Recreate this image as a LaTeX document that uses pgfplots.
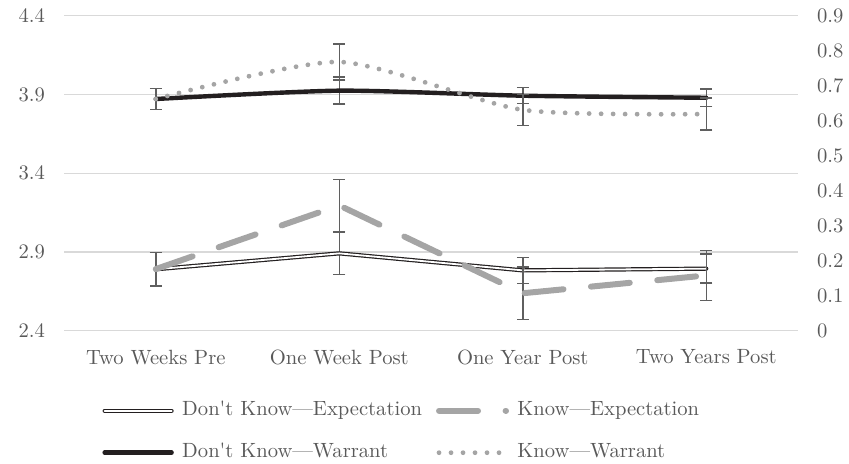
\documentclass[border=0pt]{standalone}
\usepackage{pgfplots}
\pgfplotsset{compat=1.18}
\usetikzlibrary{calc}

\definecolor{txtgray}{HTML}{595959}
\definecolor{gridgray}{HTML}{D9D9D9}
\definecolor{lightgray}{HTML}{A5A5A5}
\definecolor{nearblack}{HTML}{231F20}
\definecolor{errgray}{HTML}{5F5F5F}

\pgfplotsset{
  base/.style={
    scale only axis, width=367pt, height=157.5pt,
    xmin=-0.5, xmax=3.5,
    axis line style={draw=none},
    major tick length=0pt,
    tick label style={font=\fontsize{10.3}{12.4}\selectfont, text=txtgray},
    /pgf/number format/assume math mode=true,
  },
  dkexp/.style={draw=nearblack, line width=0.6pt, double=white, double distance=0.9pt, line cap=round},
  kexp/.style={draw=lightgray, line width=3pt, dash pattern=on 19.5pt off 13.8pt, line cap=round},
  dkwar/.style={draw=nearblack, line width=2.2pt, line cap=round},
  kwar/.style={draw=lightgray, line width=2.4pt, dash pattern=on 0pt off 6pt, line cap=round},
  errs/.style={draw=none, mark=none, forget plot,
    error bars/.cd, y dir=both, y explicit,
    error mark=-,
    error bar style={draw=errgray, line width=0.75pt, solid},
    error mark options={draw=errgray, rotate=90, mark size=3pt, line width=0.75pt, solid}},
}

\begin{document}
\begin{tikzpicture}
% left axis: Don't Know series
\begin{axis}[base,
  ymin=2.4, ymax=4.4,
  ytick={2.4,2.9,3.4,3.9,4.4},
  yticklabel style={/pgf/number format/fixed, /pgf/number format/fixed zerofill,
    /pgf/number format/precision=1, xshift=-6pt},
  ymajorgrids, grid style={gridgray, line width=0.65pt},
  xtick={0,1,2,3},
  xticklabels={Two Weeks Pre, One Week Post, One Year Post, Two Years Post},
  xticklabel style={yshift=-6pt},
]
\coordinate (ll) at (rel axis cs:0,0);
\coordinate (ur) at (rel axis cs:1,1);
\addplot[errs] table[x=x, y=y, y error=e] {
x y e
0 2.790 0.106
1 2.891 0.133
2 2.783 0.083
3 2.794 0.092
};
\addplot[errs] table[x=x, y=y, y error=e] {
x y e
0 3.871 0.067
1 3.924 0.086
2 3.892 0.051
3 3.879 0.057
};
\addplot[dkexp, mark=none] coordinates {(0,2.790) (1,2.891) (2,2.783) (3,2.794)};
\addplot[dkwar, mark=none, smooth, tension=0.4] coordinates {(0,3.871) (1,3.924) (2,3.892) (3,3.879)};
\end{axis}

% right axis: Know series
\begin{axis}[base,
  ymin=0, ymax=0.9,
  ytick={0,0.1,0.2,0.3,0.4,0.5,0.6,0.7,0.8,0.9},
  axis y line*=right, hide x axis,
  yticklabel style={xshift=6pt},
  legend columns=2,
  legend image code/.code={\draw[#1] (0pt,0pt) -- (33.5pt,0pt);},
  legend style={at={(axis description cs:0.0518,-0.2146)}, anchor=north west,
    draw=none, fill=none, inner sep=0pt,
    font=\fontsize{10.3}{12.4}\selectfont, text=txtgray,
    nodes={inner sep=1pt, text height=7.5pt, text depth=2.5pt},
    row sep=9pt,
    /tikz/every odd column/.append style={column sep=3.2pt},
    /tikz/every even column/.append style={column sep=6pt}},
  legend cell align=left,
]
\addplot[errs] table[x=x, y=y, y error=e] {
x y e
0 0.176 0.048
1 0.358 0.074
2 0.107 0.075
3 0.158 0.071
};
\addplot[errs] table[x=x, y=y, y error=e] {
x y e
0 0.662 0.030
1 0.768 0.051
2 0.631 0.044
3 0.619 0.046
};
\addplot[kexp, mark=none, forget plot] coordinates {(0,0.176) (1,0.358) (2,0.107) (3,0.158)};
\addplot[kwar, mark=none, smooth, tension=0.4, forget plot] coordinates {(0,0.662) (1,0.768) (2,0.631) (3,0.619)};

\addlegendimage{dkexp}
\addlegendentry{Don\textquotesingle t Know—Expectation}
\addlegendimage{kexp}
\addlegendentry{Know—Expectation}
\addlegendimage{dkwar}
\addlegendentry{Don\textquotesingle t Know—Warrant}
\addlegendimage{kwar}
\addlegendentry{Know—Warrant}
\end{axis}

\pgfresetboundingbox
\path ($(ll)+(-32pt,-66.65pt)$) rectangle ($(ur)+(25.5pt,7.85pt)$);
\end{tikzpicture}
\end{document}
